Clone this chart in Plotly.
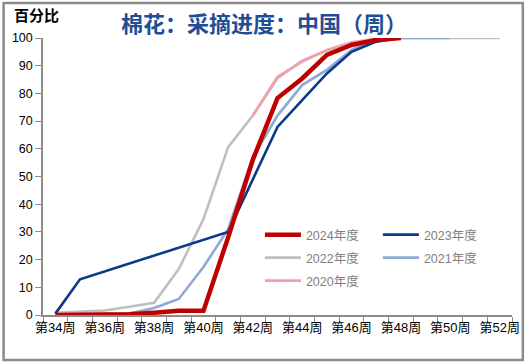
import plotly.graph_objects as go

weeks = list(range(34, 53))
tick_weeks = [34, 36, 38, 40, 42, 44, 46, 48, 50, 52]
tick_labels = [f"第{w}周" for w in tick_weeks]

N = None
s2024 = [0, 0, 0, 0.3, 0.8, 1.5, 1.5, 28, 56, 78.3, 85.4, 93.9, 97.5, 99.3, 100, N, N, N, N]
s2023 = [0.5, 12.9, N, N, N, N, N, 30, 49, 67.9, 77.6, 87.2, 95, 98.7, 100, N, N, N, N]
s2022 = [0.8, 1.1, 1.6, 3, 4.4, 16.6, 34.6, 60.6, 72, 85.5, 91.8, 95.5, 97.8, 99.3, 100, 100, 100, 100, 100]
s2021 = [N, 0.3, 0.3, 0.5, 2.5, 5.8, 17.3, 31, 57, 72, 83, 88.5, 95.7, 99.3, 100, 100, 100, N, N]
s2020 = [N, N, N, N, N, N, N, N, 72, 86, 91.5, 95.7, 98.5, 99.7, 100, N, N, N, N]

series = {
    "2024年度": (s2024, "#C00000", 4.5, "legend"),
    "2023年度": (s2023, "#0B3A8A", 2.6, "legend"),
    "2022年度": (s2022, "#BFBFBF", 2.6, "legend2"),
    "2021年度": (s2021, "#8EA9D4", 2.6, "legend2"),
    "2020年度": (s2020, "#F2A0AB", 2.6, "legend3"),
}
legend_order = ["2024年度", "2023年度", "2022年度", "2021年度", "2020年度"]
draw_order = ["2022年度", "2021年度", "2020年度", "2023年度", "2024年度"]

fig = go.Figure()
for name in draw_order:
    vals, color, w, lg = series[name]
    fig.add_trace(go.Scatter(
        x=weeks, y=vals, mode="lines", name=name,
        line=dict(color=color, width=w),
        connectgaps=True, legend=lg,
        legendrank=legend_order.index(name) + 1,
    ))

leg_common = dict(
    orientation="h", entrywidth=67, entrywidthmode="pixels",
    xanchor="left", yanchor="middle",
    font=dict(size=12.5, color="#7F7F7F", family="Liberation Sans, Noto Sans CJK SC"),
    bgcolor="rgba(0,0,0,0)", itemwidth=36,
)
lx = 0.452 + 5 / 476
fig.update_layout(
    width=532, height=364,
    margin=dict(l=43, r=13, t=38, b=49),
    paper_bgcolor="white", plot_bgcolor="white",
    font=dict(family="Liberation Sans, Arial, Noto Sans CJK SC", size=12, color="#000000"),
    showlegend=True,
    legend=dict(x=lx, y=(315 - 235) / 277, **leg_common),
    legend2=dict(x=lx, y=(315 - 258) / 277, **leg_common),
    legend3=dict(x=lx, y=(315 - 281) / 277, **leg_common),
    annotations=[
        dict(text="<b>棉花：采摘进度：中国（周）</b>", xref="paper", yref="paper",
             x=(267 - 43) / 476, y=(315 - 22) / 277, xanchor="center", yanchor="middle",
             showarrow=False,
             font=dict(size=22, color="#1F4E96", family="Noto Sans CJK SC")),
        dict(text="<b>百分比</b>", xref="paper", yref="paper",
             x=(12 - 43) / 476, y=(315 - 15) / 277,
             xanchor="left", yanchor="middle", showarrow=False,
             font=dict(size=15, color="#000000", family="Noto Sans CJK SC")),
    ],
    shapes=[
        dict(type="rect", xref="paper", yref="paper",
             x0=(3 - 43) / 476, x1=(530 - 43) / 476,
             y0=(315 - 360) / 277, y1=(315 - 3) / 277,
             line=dict(color="#8C8C8C", width=2.5), layer="below"),
    ],
)

fig.update_xaxes(
    range=[33.5, 52.5], tickmode="array", tickvals=tick_weeks, ticktext=tick_labels,
    ticks="", showgrid=False, zeroline=False,
    showline=True, linecolor="#8C8C8C", linewidth=1.5,
    tickfont=dict(size=13, family="Liberation Sans, Noto Sans CJK SC"),
    minor=dict(tickmode="array", tickvals=[w - 0.5 for w in weeks] + [52.5],
               ticks="outside", ticklen=6, tickcolor="#8C8C8C", tickwidth=1.2, showgrid=False),
    fixedrange=True,
)
fig.update_yaxes(
    range=[0, 100], dtick=10, ticks="outside", ticklen=6, tickcolor="#8C8C8C", tickwidth=1.2,
    showgrid=False, zeroline=False, showline=True, linecolor="#8C8C8C", linewidth=1.5,
    tickfont=dict(size=12.5, family="Liberation Sans"), fixedrange=True,
)

fig.write_html("out.html", config={"displayModeBar": False},
               post_script="document.body.style.margin='0';")
